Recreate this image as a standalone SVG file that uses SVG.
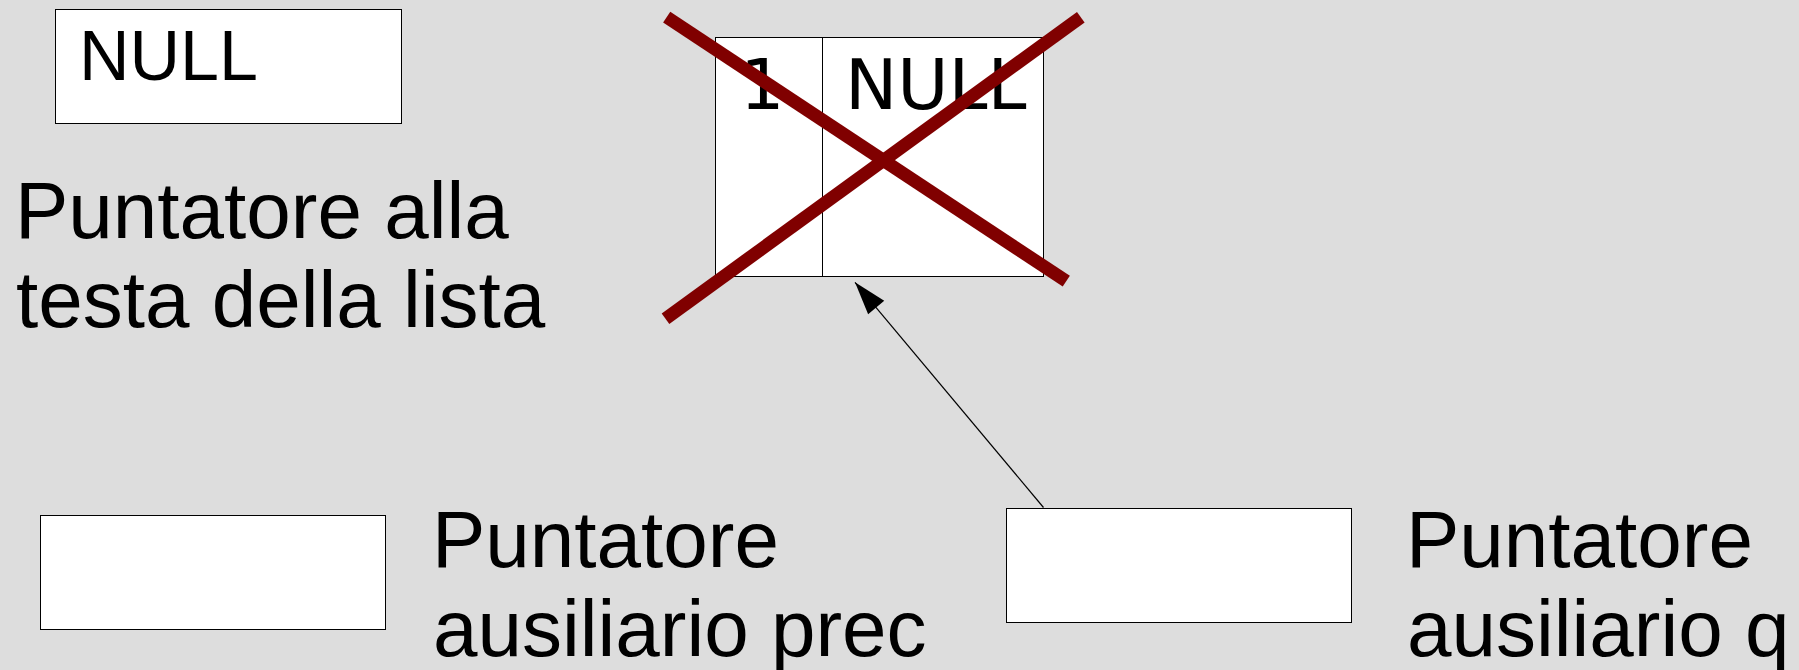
<svg xmlns="http://www.w3.org/2000/svg" width="1799" height="670" viewBox="0 0 1799 670">
  <style>
    .box { fill: #ffffff; stroke: #000000; stroke-width: 1; }
    .lbl { font-family: "Liberation Sans", Arial, sans-serif; fill: #000000; }
    .big { font-size: 80px; }
    .mid { font-family: "DejaVu Sans", sans-serif; font-size: 70px; fill: #000000; }
    .cross { stroke: #800000; stroke-width: 13; stroke-linecap: butt; fill: none; }
    .conn { stroke: #000000; stroke-width: 1.2; fill: none; }
  </style>
  <defs>
    <marker id="arrow" markerUnits="userSpaceOnUse" markerWidth="40" markerHeight="30" refX="33" refY="0" viewBox="0 -15 40 30" orient="auto" overflow="visible">
      <path d="M0,-10.5 L33,0 L0,10.5 Z" fill="#000000"/>
    </marker>
  </defs>
  <rect x="0" y="0" width="1799" height="670" fill="#dddddd"/>

  <g id="head">
    <rect class="box" x="55.5" y="9.5" width="346" height="114"/>
    <text class="lbl" x="79" y="79.5" font-size="70">NULL</text>
  </g>
  <g id="head-label">
    <text class="lbl big" x="15" y="237.5">Puntatore alla</text>
    <text class="lbl big" x="16" y="326.5">testa della lista</text>
  </g>

  <g id="node1">
    <rect class="box" x="715.5" y="37.5" width="328" height="239"/>
    <line x1="822.5" y1="37.5" x2="822.5" y2="276.5" stroke="#000000" stroke-width="1"/>
    <text class="mid" x="740" y="109">1</text>
    <text class="mid" x="845" y="108.5" font-size="69">NULL</text>
  </g>

  <g id="prec">
    <rect class="box" x="40.5" y="515.5" width="345" height="114"/>
    <text class="lbl big" x="432" y="566.5">Puntatore</text>
    <text class="lbl big" x="433" y="655.5">ausiliario prec</text>
  </g>

  <g id="q">
    <rect class="box" x="1006.5" y="508.5" width="345" height="114"/>
    <text class="lbl big" x="1406" y="566.5">Puntatore</text>
    <text class="lbl big" x="1407" y="655.5">ausiliario q</text>
  </g>

  <g id="connectors">
    <line class="conn" x1="1043.5" y1="507.5" x2="855" y2="282.3" marker-end="url(#arrow)"/>
  </g>

  <g id="cross">
    <line class="cross" x1="666.7" y1="17.2" x2="1066.3" y2="281.2"/>
    <line class="cross" x1="1080.8" y1="17.2" x2="665.5" y2="318.7"/>
  </g>
</svg>
